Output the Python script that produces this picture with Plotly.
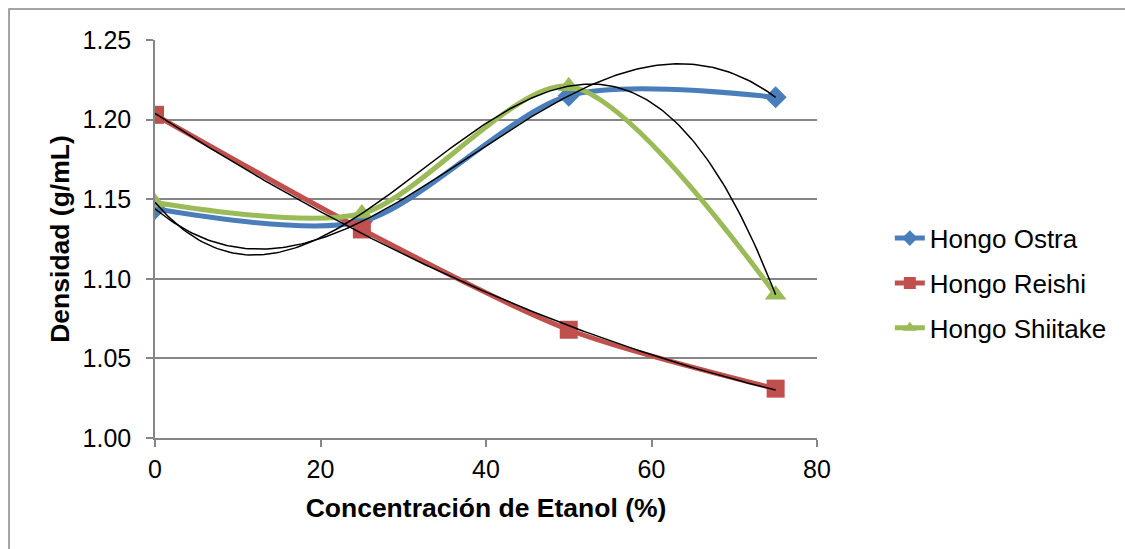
import numpy as np
import plotly.graph_objects as go

concentracion = [0, 25, 50, 75]
ostra = [1.144, 1.136, 1.215, 1.214]
reishi = [1.203, 1.131, 1.068, 1.031]
shiitake = [1.148, 1.141, 1.221, 1.090]

series_names = ["Hongo Ostra", "Hongo Reishi", "Hongo Shiitake"]
series_vals = [ostra, reishi, shiitake]
colors = ["#4A7EBB", "#C0504D", "#9BBB59"]
symbols = ["diamond", "square", "triangle-up"]
msizes = [17, 18, 19]
trend_deg = [3, 2, 3]

y_ticks = [1.00, 1.05, 1.10, 1.15, 1.20, 1.25]
x_ticks = [0, 20, 40, 60, 80]

FONT = "Liberation Sans, Arial"

fig = go.Figure()

for i, (name, vals, c, s, ms) in enumerate(zip(series_names, series_vals, colors, symbols, msizes)):
    fig.add_trace(go.Scatter(
        x=concentracion, y=vals, name=name, mode="lines+markers",
        legendgroup=f"g{i}",
        line=dict(color=c, width=5, shape="spline", smoothing=0.8),
        marker=dict(symbol=s, size=ms, color=c),
    ))

# polynomial trendlines (as in the original chart), fitted to the data
xs = np.linspace(min(concentracion), max(concentracion), 200)
for vals, deg in zip(series_vals, trend_deg):
    coef = np.polyfit(concentracion, vals, deg)
    fig.add_trace(go.Scatter(
        x=xs, y=np.polyval(coef, xs), mode="lines",
        line=dict(color="black", width=1.5), showlegend=False, hoverinfo="skip",
    ))

axis_common = dict(
    showline=True, linecolor="#868686", linewidth=1.5,
    ticks="outside", ticklen=7, tickcolor="#868686", tickwidth=1.5,
    tickfont=dict(family=FONT, size=25, color="black"),
    zeroline=False,
)

fig.update_layout(
    width=1125, height=549,
    margin=dict(l=155, r=308, t=40, b=111),
    paper_bgcolor="white", plot_bgcolor="white",
    font=dict(family=FONT, color="black"),
    xaxis=dict(
        range=[0, 80], tickvals=x_ticks, showgrid=False,
        ticklabelstandoff=1,
        title=dict(text="<b>Concentración de Etanol (%)</b>",
                   font=dict(size=26.5, family=FONT), standoff=17),
        **axis_common,
    ),
    yaxis=dict(
        range=[1.00, 1.25], tickvals=y_ticks, tickformat=".2f",
        showgrid=True, gridcolor="#868686", gridwidth=1.5,
        ticklabelstandoff=10,
        title=dict(text="<b>Densidad (g/mL)</b>",
                   font=dict(size=26.5, family=FONT), standoff=5),
        **axis_common,
    ),
    legend=dict(
        x=1.11, y=0.389, xanchor="left", yanchor="middle",
        font=dict(size=26, family=FONT, color="black"),
        traceorder="grouped", tracegroupgap=8, itemsizing="constant",
    ),
    shapes=[dict(type="rect", xref="paper", yref="paper",
                 x0=-0.2205, x1=1.8, y0=-0.5, y1=1.078,
                 line=dict(color="#868686", width=1.5), layer="below")],
)

fig.write_html("out.html")
